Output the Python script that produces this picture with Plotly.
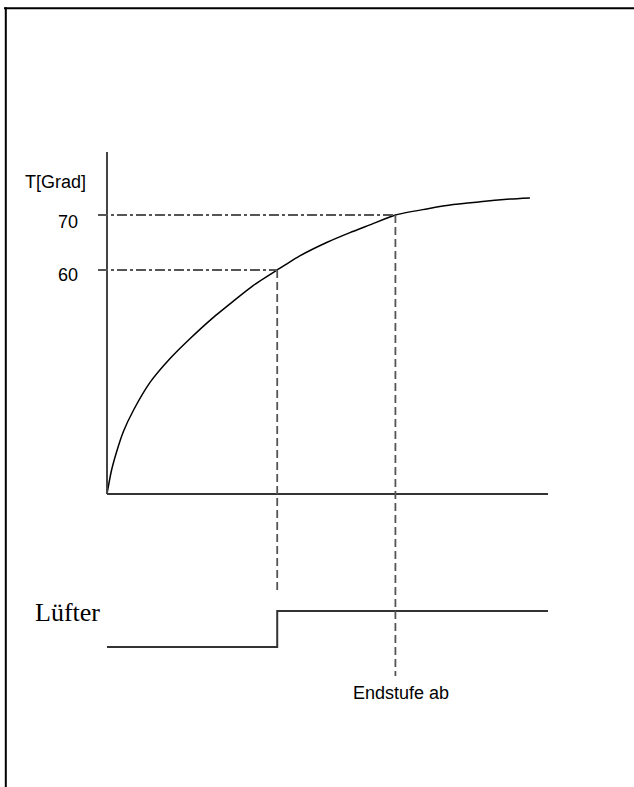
import plotly.graph_objects as go

W, H = 634, 787

# ---- data ----
time = [0, 1.0, 2.2, 3.7, 6.0, 9.8, 14.3, 18.8, 24.0, 28.6, 33.2, 38.6,
        43.8, 49.8, 55.1, 59.6, 65.4, 72.5, 78.5, 84.6, 91.4, 95.9]
temperature = [19.3, 23.5, 27.0, 30.6, 34.5, 39.6, 43.9, 47.5, 51.3, 54.3, 57.2, 60.0,
               62.6, 65.0, 66.8, 68.2, 70.0, 71.1, 71.9, 72.4, 72.9, 73.1]
thresholds = [60, 70]
threshold_labels = ["60", "70"]
crossing_times = [38.6, 65.4]
fan_time = [0, 38.6, 38.6, 100]
fan_state = [0, 0, 1, 1]
y_title = "T[Grad]"
fan_label = "Lüfter"
event_label = "Endstufe ab"

# ---- layout helpers ----
def px_x(p):
    return p / W

def px_y(p):
    return 1 - p / H

x_dom = [px_x(98), px_x(548)]
x_rng = [-2.04, 100]
y_dom = [px_y(494), px_y(152)]
y_rng = [19.27, 81.45]
y2_dom = [px_y(700), px_y(560)]
y2_rng = [-1.472, 2.417]

def temp_to_paper(t):
    return y_dom[0] + (t - y_rng[0]) / (y_rng[1] - y_rng[0]) * (y_dom[1] - y_dom[0])

fig = go.Figure()
fig.add_trace(go.Scatter(x=time, y=temperature, mode="lines",
                         line=dict(color="black", width=1.5, shape="spline", smoothing=0.6),
                         xaxis="x", yaxis="y", hoverinfo="skip"))
fig.add_trace(go.Scatter(x=fan_time, y=fan_state, mode="lines",
                         line=dict(color="#333333", width=2), xaxis="x2", yaxis="y2",
                         hoverinfo="skip"))

shapes = []
# axis lines
shapes.append(dict(type="line", xref="x", yref="y domain", x0=0, x1=0, y0=0, y1=1,
                   line=dict(color="#444444", width=2)))
shapes.append(dict(type="line", xref="x", yref="y domain", x0=0, x1=100, y0=0, y1=0,
                   line=dict(color="#333333", width=2)))
# threshold guide lines
v_ends = [px_y(592), px_y(676)]
for thr, tc, ve in zip(thresholds, crossing_times, v_ends):
    shapes.append(dict(type="line", xref="x", yref="y", x0=x_rng[0], x1=tc, y0=thr, y1=thr,
                       line=dict(color="#555555", width=1.8, dash="10px,3px,3px,3px")))
    shapes.append(dict(type="line", xref="x", yref="paper", x0=tc, x1=tc,
                       y0=temp_to_paper(thr), y1=ve,
                       line=dict(color="#555555", width=1.8, dash="8px,4px")))
# page border
shapes.append(dict(type="line", xref="paper", yref="paper", x0=px_x(4), x1=1,
                   y0=px_y(8.3), y1=px_y(8.3), line=dict(color="black", width=2)))
shapes.append(dict(type="line", xref="paper", yref="paper", x0=px_x(5.8), x1=px_x(5.8),
                   y0=px_y(7.3), y1=0, line=dict(color="black", width=2)))

sans = "Liberation Sans, Arial, sans-serif"
serif = "Liberation Serif, Times New Roman, serif"
annotations = []
annotations.append(dict(text=y_title, xref="paper", yref="paper", x=px_x(88), y=px_y(182),
                        xanchor="right", yanchor="middle", showarrow=False,
                        font=dict(family=sans, size=18, color="black")))
for thr, lab, yy in zip(thresholds, threshold_labels, [275, 221.5]):
    annotations.append(dict(text=lab, xref="paper", yref="paper", x=px_x(80), y=px_y(yy),
                            xanchor="right", yanchor="middle", showarrow=False,
                            font=dict(family=sans, size=18, color="black")))
annotations.append(dict(text=fan_label, xref="paper", yref="paper", x=px_x(33), y=px_y(612),
                        xanchor="left", yanchor="middle", showarrow=False,
                        font=dict(family=serif, size=26, color="black")))
annotations.append(dict(text=event_label, xref="paper", yref="paper", x=px_x(401), y=px_y(693),
                        xanchor="center", yanchor="middle", showarrow=False,
                        font=dict(family=sans, size=18, color="black")))

hidden = dict(showgrid=False, zeroline=False, showline=False, showticklabels=False,
              ticks="", fixedrange=True)
fig.update_layout(
    width=W, height=H,
    margin=dict(l=0, r=0, t=0, b=0),
    paper_bgcolor="white", plot_bgcolor="white",
    showlegend=False,
    xaxis=dict(domain=x_dom, range=x_rng, anchor="y", **hidden),
    yaxis=dict(domain=y_dom, range=y_rng, anchor="x", **hidden),
    xaxis2=dict(domain=x_dom, range=x_rng, anchor="y2", matches="x", **hidden),
    yaxis2=dict(domain=y2_dom, range=y2_rng, anchor="x2", **hidden),
    shapes=shapes,
    annotations=annotations,
)

fig.write_html("out.html", config={"displayModeBar": False},
               post_script="document.body.style.margin='0px';")
